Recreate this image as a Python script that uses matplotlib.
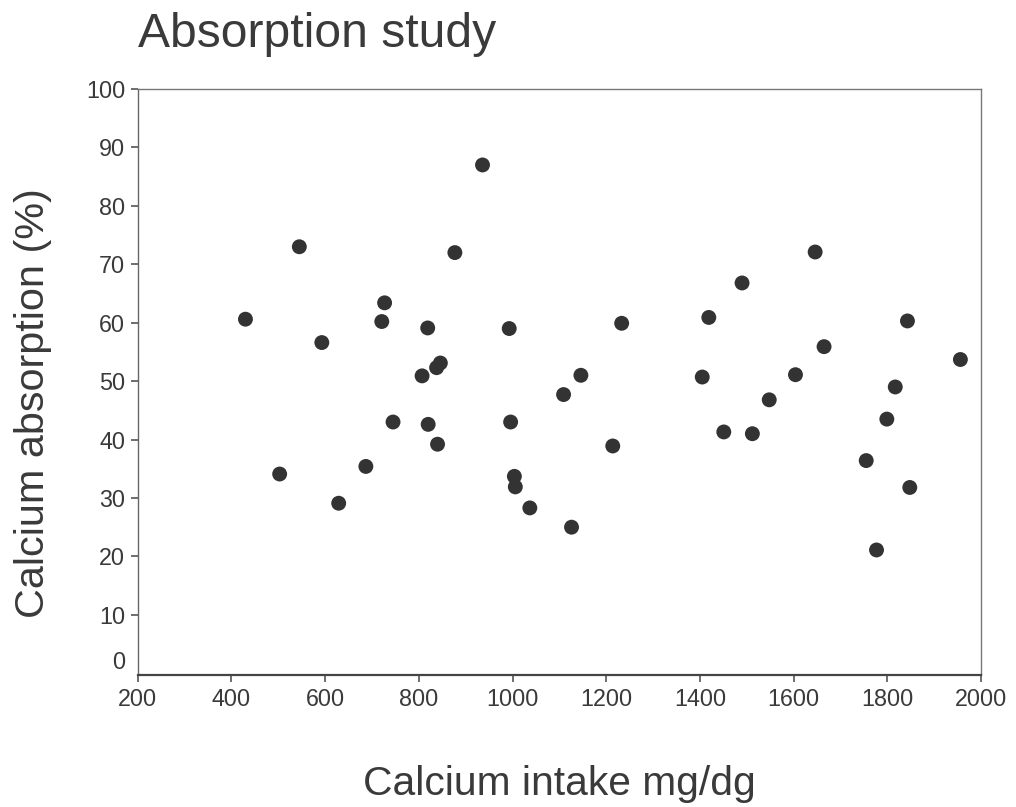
import matplotlib
matplotlib.use('Agg')
import matplotlib.pyplot as plt
from matplotlib.transforms import offset_copy

# Calcium intake (mg/dg) vs absorption (%)
intake = [430, 503, 545, 593, 629, 687, 721, 727, 745, 807, 819, 820, 838, 846,
          840, 877, 936, 993, 996, 1004, 1006, 1037, 1109, 1126, 1146, 1214,
          1233, 1405, 1419, 1451, 1490, 1512, 1548, 1604, 1646, 1665, 1755,
          1777, 1799, 1817, 1843, 1848, 1956]
absorption = [60.6, 34.1, 73.0, 56.6, 29.1, 35.4, 60.2, 63.4, 43.0, 50.9, 59.1,
              42.6, 52.3, 53.1, 39.2, 72.0, 87.0, 59.0, 43.0, 33.7, 31.9, 28.3,
              47.7, 25.0, 51.0, 38.9, 59.9, 50.7, 60.9, 41.3, 66.8, 41.0, 46.8,
              51.1, 72.1, 55.9, 36.4, 21.1, 43.5, 49.0, 60.3, 31.8, 53.7]
x_ticks = list(range(200, 2001, 200))
y_ticks = list(range(0, 101, 10))

plt.rcParams['font.family'] = ['Liberation Sans', 'DejaVu Sans']
txt = '#3a3a3a'

W, H = 1016, 807
fig = plt.figure(figsize=(W / 100, H / 100), dpi=100)
ax = fig.add_axes([137.7 / W, 1 - 675 / H, (981 - 137.7) / W, (675 - 89) / H])

ax.scatter(intake, absorption, s=115, color='#333333', edgecolors='none', zorder=3)

ax.set_xlim(200, 2000)
ax.set_ylim(-0.3, 100)
ax.set_xticks(x_ticks)
ax.set_yticks(y_ticks)
ax.tick_params(axis='both', direction='out', length=5, width=1.2, color='#555555',
               labelsize=16.8, labelcolor=txt, pad=4)
for s in ax.spines.values():
    s.set_color('#777777')
    s.set_linewidth(1.0)
ax.spines['bottom'].set_color('#444444')
ax.spines['bottom'].set_linewidth(1.6)
ax.spines['left'].set_color('#666666')

# the "0" label sits a little above the axis line in the original
lbl0 = ax.get_yticklabels()[0]
lbl0.set_transform(offset_copy(lbl0.get_transform(), fig=fig, x=0, y=13, units='dots'))
ax.yaxis.get_major_ticks()[0].tick1line.set_visible(False)

fig.text(137.7 / W, 1 - 47 / H, 'Absorption study', fontsize=34.6, color=txt,
         ha='left', va='baseline')
fig.text(559 / W, 1 - 795 / H, 'Calcium intake mg/dg', fontsize=29.3, color=txt,
         ha='center', va='baseline')
fig.text(33 / W, 1 - 403 / H, 'Calcium absorption (%)', fontsize=29.8, color=txt,
         ha='center', va='center', rotation=90)

fig.savefig('out.png', dpi=100)
